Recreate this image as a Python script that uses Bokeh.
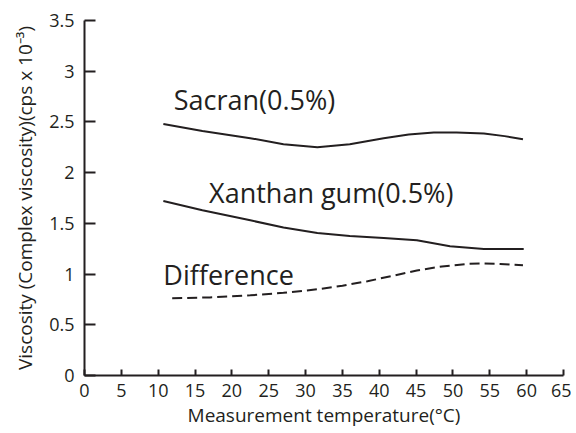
from bokeh.plotting import figure
from bokeh.models import Range1d, FixedTicker
from bokeh.core.properties import value
from bokeh.embed import file_html
from bokeh.resources import INLINE

# Data
sacran_x = [10.7, 16.0, 22.5, 27.0, 31.6, 36.0, 40.6, 44.0, 47.4, 50.5, 54.2, 57.0, 59.5]
sacran_y = [2.48, 2.41, 2.34, 2.28, 2.25, 2.28, 2.34, 2.375, 2.395, 2.395, 2.385, 2.36, 2.33]

xanthan_x = [10.7, 16.0, 22.5, 27.0, 31.6, 36.0, 40.6, 45.1, 49.6, 54.2, 59.6]
xanthan_y = [1.72, 1.63, 1.53, 1.46, 1.405, 1.375, 1.356, 1.333, 1.275, 1.248, 1.248]

diff_x = [11.9, 17.0, 22.5, 27.0, 31.6, 35.0, 38.4, 42.0, 45.1, 48.5, 51.9, 54.0, 56.4, 59.5]
diff_y = [0.762, 0.77, 0.79, 0.815, 0.85, 0.885, 0.93, 0.985, 1.036, 1.075, 1.10, 1.105, 1.10, 1.088]

labels = ["Sacran(0.5%)", "Xanthan gum(0.5%)", "Difference"]
label_x = [12.1, 16.9, 10.7]
label_y = [2.72, 1.80, 1.00]

x_ticks = list(range(0, 70, 5))
y_ticks = [0, 0.5, 1, 1.5, 2, 2.5, 3, 3.5]

INK = "#231f20"
FONT = "Open Sans"

p = figure(frame_width=479, frame_height=355, output_backend="svg", toolbar_location=None,
           x_range=Range1d(0, 65), y_range=Range1d(0, 3.5),
           min_border_left=84, min_border_right=8, min_border_top=20, min_border_bottom=50)
p.outline_line_color = None
p.grid.visible = False
p.background_fill_color = "white"
p.border_fill_color = "white"

p.line(sacran_x, sacran_y, line_color=INK, line_width=2)
p.line(xanthan_x, xanthan_y, line_color=INK, line_width=2)
p.line(diff_x, diff_y, line_color=INK, line_width=2, line_dash="10 5")

p.text(x=label_x, y=label_y, text=labels, text_font=value(FONT), text_font_size="27px",
       text_color=INK, text_align="left", text_baseline="alphabetic")

for ax in (p.xaxis[0], p.yaxis[0]):
    ax.axis_line_color = INK
    ax.axis_line_width = 2
    ax.major_tick_line_color = INK
    ax.major_tick_line_width = 2
    ax.minor_tick_line_color = None
    ax.major_tick_out = 0
    ax.major_label_text_font = FONT
    ax.major_label_text_font_size = "18px"
    ax.major_label_text_color = INK
    ax.axis_label_text_font = FONT
    ax.axis_label_text_font_size = "19px"
    ax.axis_label_text_font_style = "normal"
    ax.axis_label_text_color = INK

p.xaxis.ticker = FixedTicker(ticks=x_ticks)
p.yaxis.ticker = FixedTicker(ticks=y_ticks)
p.xaxis.major_tick_in = 6
p.yaxis.major_tick_in = 11
p.xaxis.major_label_standoff = 8
p.yaxis.major_label_standoff = 10
p.xaxis.axis_label = "Measurement temperature(°C)"
p.yaxis.axis_label = "Viscosity (Complex viscosity)(cps x 10⁻³)"
p.xaxis.axis_label_standoff = 2
p.yaxis.axis_label_standoff = 8

open("out.html", "w").write(file_html(p, INLINE))
